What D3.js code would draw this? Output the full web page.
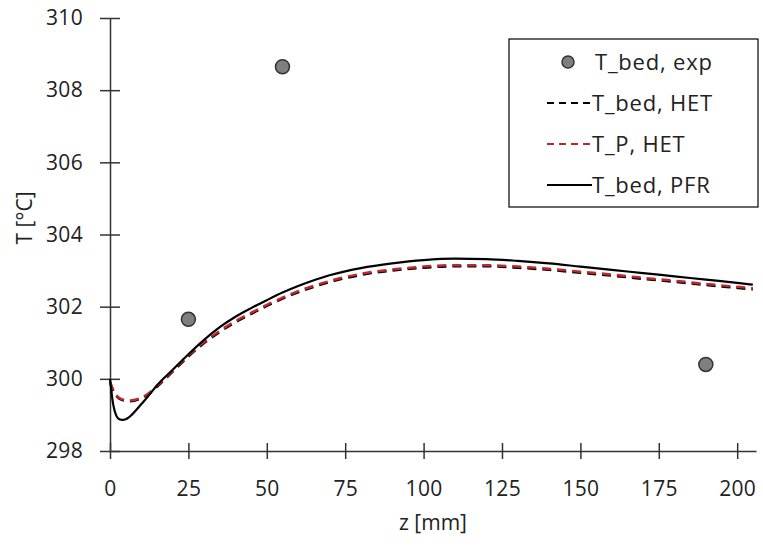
<!DOCTYPE html>
<html><head><meta charset="utf-8">
<script src="https://cdn.jsdelivr.net/npm/d3@7"></script>
<style>body{margin:0;background:#fff}svg{display:block}text{font-family:"Open Sans",sans-serif;fill:#222}</style>
</head><body>
<svg id="c" width="763" height="550"></svg>
<script>
const zGrid = [0,1,2,3,4,5,6,8,10,12,15,20,25,30,35,40,45,50,55,60,65,70,75,80,90,100,110,120,130,140,150,160,170,180,190,200,205];
const tBedPFR = [300.0,299.3,298.98,298.88,298.86,298.88,298.93,299.1,299.3,299.5,299.82,300.25,300.68,301.08,301.43,301.72,301.96,302.18,302.39,302.57,302.73,302.87,302.98,303.07,303.2,303.29,303.33,303.32,303.27,303.2,303.11,303.02,302.93,302.84,302.75,302.66,302.61];
const tPHET = [299.92,299.7,299.55,299.47,299.43,299.41,299.4,299.42,299.48,299.58,299.8,300.22,300.65,301.02,301.33,301.6,301.83,302.05,302.25,302.43,302.58,302.71,302.82,302.91,303.03,303.11,303.15,303.15,303.11,303.05,302.97,302.89,302.8,302.72,302.63,302.55,302.51];
const tBedHET = [299.9,299.68,299.53,299.45,299.41,299.39,299.38,299.4,299.46,299.56,299.78,300.2,300.62,300.99,301.3,301.57,301.8,302.02,302.22,302.4,302.55,302.68,302.79,302.88,303.0,303.08,303.12,303.12,303.08,303.02,302.94,302.86,302.77,302.69,302.6,302.52,302.48];
const expZ = [25,55,190];
const expT = [301.65,308.65,300.4];
const xTicks = [0,25,50,75,100,125,150,175,200];
const yTicks = [298,300,302,304,306,308,310];
const legendLabels = ["T_bed, exp","T_bed, HET","T_P, HET","T_bed, PFR"];

const svg = d3.select("#c");
const x = d3.scaleLinear().domain([0,206]).range([110,756]);
const y = d3.scaleLinear().domain([298,310]).range([451,18]);
const axisColor = "#333";

// axes
const xa = svg.append("g").attr("transform","translate(0,451)")
  .call(d3.axisBottom(x).tickValues(xTicks).tickSizeInner(8).tickSizeOuter(0).tickPadding(22));
xa.select(".domain").attr("stroke",axisColor).attr("stroke-width",1.5);
xa.selectAll(".tick line").attr("stroke",axisColor).attr("stroke-width",1.5).attr("y1",-8).attr("y2",8);
xa.selectAll(".tick text").attr("font-size",21).attr("letter-spacing","0.3px").attr("fill","#222").attr("font-family","Open Sans");

const ya = svg.append("g").attr("transform","translate(110,0)")
  .call(d3.axisLeft(y).tickValues(yTicks).tickSizeInner(10).tickSizeOuter(0).tickPadding(17));
ya.select(".domain").attr("stroke",axisColor).attr("stroke-width",1.5);
ya.selectAll(".tick line").attr("stroke",axisColor).attr("stroke-width",1.5).attr("x1",-10).attr("x2",10);
ya.selectAll(".tick text").attr("font-size",21).attr("letter-spacing","0.3px").attr("fill","#222").attr("font-family","Open Sans");

svg.append("text").attr("x",433).attr("y",530).attr("text-anchor","middle").attr("font-size",21).text("z [mm]");
svg.append("text").attr("transform","translate(32,218) rotate(-90)").attr("text-anchor","middle").attr("font-size",21).text("T [°C]");

// lines
const mk = arr => d3.line().x((d,i)=>x(zGrid[i])).y(d=>y(d)).curve(d3.curveMonotoneX)(arr);
svg.append("path").attr("d",mk(tBedHET)).attr("fill","none").attr("stroke","#000").attr("stroke-width",2.5).attr("stroke-dasharray","9,6");
svg.append("path").attr("d",mk(tPHET)).attr("fill","none").attr("stroke","#c0282d").attr("stroke-width",2.5).attr("stroke-dasharray","9,6");
svg.append("path").attr("d",mk(tBedPFR)).attr("fill","none").attr("stroke","#000").attr("stroke-width",2.2);

// experimental points
svg.selectAll("circle.exp").data(expZ).enter().append("circle").attr("class","exp")
  .attr("cx",(d)=>x(d)).attr("cy",(d,i)=>y(expT[i])).attr("r",7)
  .attr("fill","#7f7f7f").attr("stroke","#333").attr("stroke-width",1.5);

// legend
const lg = svg.append("g");
lg.append("rect").attr("x",509).attr("y",39).attr("width",249).attr("height",168).attr("fill","#fff").attr("stroke","#000").attr("stroke-width",1.2);
const rows = [62,103,144,185];
lg.append("circle").attr("cx",568).attr("cy",rows[0]).attr("r",6).attr("fill","#7f7f7f").attr("stroke","#333").attr("stroke-width",1.5);
lg.append("line").attr("x1",547).attr("x2",591).attr("y1",rows[1]).attr("y2",rows[1]).attr("stroke","#000").attr("stroke-width",2.2).attr("stroke-dasharray","7,5");
lg.append("line").attr("x1",547).attr("x2",591).attr("y1",rows[2]).attr("y2",rows[2]).attr("stroke","#c0282d").attr("stroke-width",2.2).attr("stroke-dasharray","7,5");
lg.append("line").attr("x1",547).attr("x2",592).attr("y1",rows[3]).attr("y2",rows[3]).attr("stroke","#000").attr("stroke-width",2.2);
legendLabels.forEach((t,i)=>{
  lg.append("text").attr("x",i===0?595:592).attr("y",rows[i]).attr("dy","0.35em").attr("font-size",22).attr("letter-spacing","0.8px").text(t);
});
</script>
</body></html>
